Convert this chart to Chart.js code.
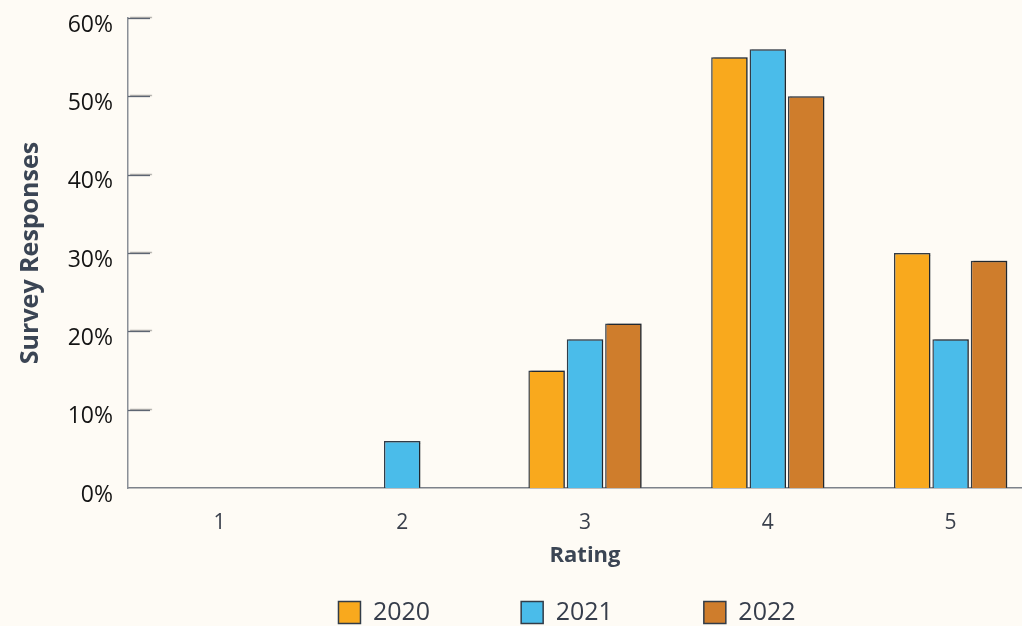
<!DOCTYPE html>
<html>
<head>
<meta charset="utf-8">
<script src="https://cdn.jsdelivr.net/npm/chart.js@4/dist/chart.umd.min.js"></script>
<style>
  html, body { margin: 0; padding: 0; background: #fefbf5; overflow: hidden; }
  #wrap { width: 1042px; height: 626px; }
</style>
</head>
<body>
<div id="wrap"><canvas id="chart" width="1042" height="626"></canvas></div>
<script>
const ratings = ["1", "2", "3", "4", "5"];
const years = ["2020", "2021", "2022"];
const values2020 = [0, 0, 15, 55, 30];
const values2021 = [0, 6, 19, 56, 19];
const values2022 = [0, 0, 21, 50, 29];
const yTicks = [0, 10, 20, 30, 40, 50, 60];

const colors = ["#f9a91d", "#4abcea", "#cf7d2c"];
const edge = "#323c48";
const font = "'Open Sans', sans-serif";

// short tick marks drawn inside the plot, next to the y axis
const innerTicks = {
  id: "innerTicks",
  afterDatasetsDraw(chart) {
    const { ctx, scales: { y } } = chart;
    ctx.save();
    ctx.strokeStyle = "#5d6572";
    ctx.lineWidth = 1.3;
    yTicks.forEach(v => {
      if (v === 0) return;
      const py = Math.round(y.getPixelForValue(v)) + 0.5;
      ctx.beginPath();
      ctx.moveTo(y.right, py);
      ctx.lineTo(y.right + 22, py);
      ctx.stroke();
    });
    ctx.restore();
  }
};

// faint shadow behind the bars
const barShadow = {
  id: "barShadow",
  beforeDatasetsDraw(chart) {
    const ctx = chart.ctx;
    ctx.save();
    ctx.shadowColor = "rgba(0,0,0,0.35)";
    ctx.shadowOffsetX = 2;
    ctx.shadowOffsetY = -1;
    ctx.shadowBlur = 1;
  },
  afterDatasetsDraw(chart) {
    chart.ctx.restore();
  }
};

// move the legend to where the original has it
const legendShift = {
  id: "legendShift",
  afterLayout(chart) {
    chart.legend.left += 46;
    chart.legend.right += 46;
    chart.legend.top -= 34;
    chart.legend.bottom -= 34;
  }
};

const allValues = [values2020, values2021, values2022];

new Chart(document.getElementById("chart"), {
  type: "bar",
  data: {
    labels: ratings,
    datasets: years.map((yr, i) => ({
      label: yr,
      data: allValues[i],
      backgroundColor: colors[i],
      borderColor: edge,
      borderWidth: 1.5,
      categoryPercentage: 0.63,
      barPercentage: 0.95
    }))
  },
  options: {
    responsive: false,
    animation: false,
    layout: { padding: { top: 18, left: 0, right: 0, bottom: -43 } },
    plugins: {
      tooltip: { enabled: false },
      legend: {
        position: "bottom",
        labels: {
          boxWidth: 22,
          boxHeight: 22,
          padding: 91,
          color: "#363d4b",
          font: { family: font, size: 25 }
        }
      }
    },
    scales: {
      x: {
        afterFit(scale) { scale.height = 55; },
        grid: { display: false, drawTicks: false },
        border: { color: "#7d828a", width: 1.5 },
        ticks: { padding: 22, color: "#3a404c", font: { family: font, size: 21 } },
        title: {
          display: true,
          text: "Rating",
          color: "#3b4554",
          padding: { top: 0, bottom: -26 },
          font: { family: font, size: 22, weight: "bold" }
        }
      },
      y: {
        min: 0,
        max: 60,
        afterFit(scale) {
          scale.width = 128;
          scale.paddingTop = 0;
          scale.paddingBottom = 0;
        },
        afterBuildTicks(scale) { scale.ticks = yTicks.map(v => ({ value: v })); },
        grid: { display: false, drawTicks: false },
        border: { color: "#8a8f97", width: 1.5 },
        ticks: {
          padding: 15,
          labelOffset: 7,
          color: "#141414",
          font: { family: font, size: 23 },
          callback: v => v + "%"
        },
        title: {
          display: true,
          text: "Survey Responses",
          color: "#3b4554",
          padding: { top: 16, bottom: 0 },
          font: { family: font, size: 25, weight: "bold" }
        }
      }
    }
  },
  plugins: [innerTicks, barShadow, legendShift]
});
</script>
</body>
</html>
